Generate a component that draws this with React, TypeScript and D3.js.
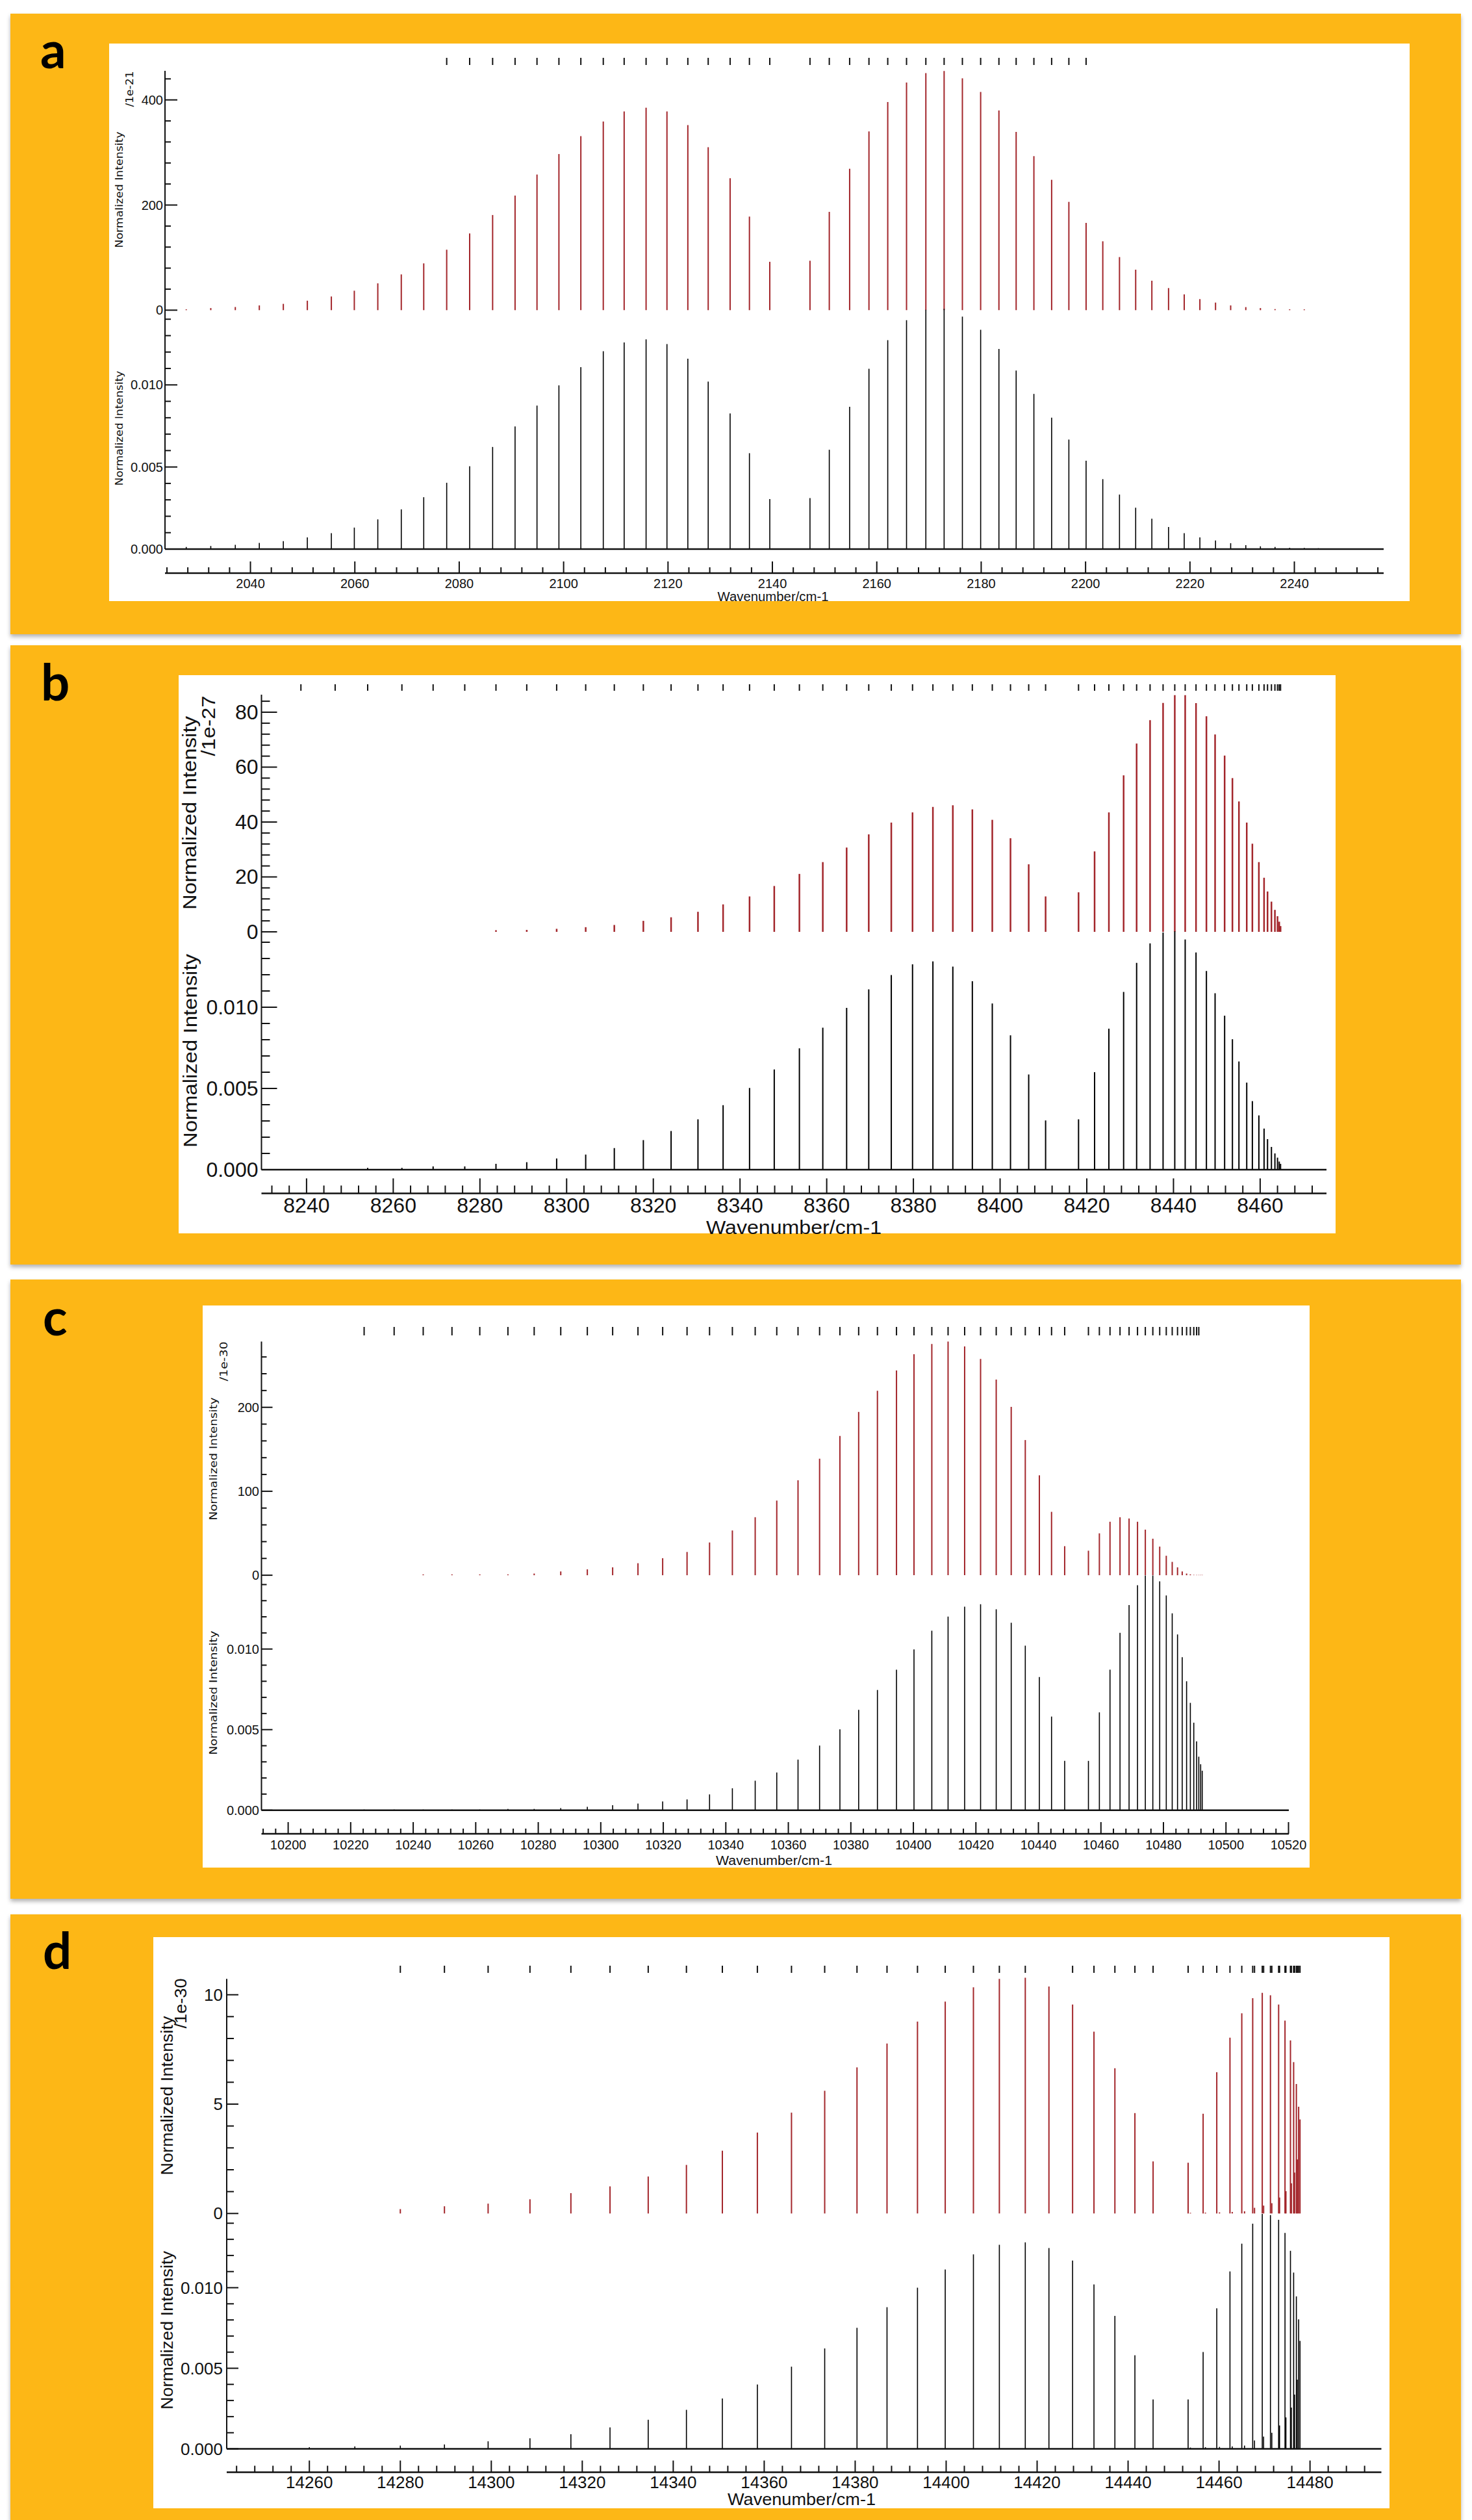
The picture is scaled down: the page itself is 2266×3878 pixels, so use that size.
import React from "react";
import * as d3 from "d3";

// ---------------- Panel a data ----------------
const aLines = [2027.7, 2032.4, 2037.1, 2041.7, 2046.3, 2050.9, 2055.5, 2059.9, 2064.4, 2068.9, 2073.2, 2077.6, 2082.0, 2086.4, 2090.7, 2094.9, 2099.1, 2103.3, 2107.6, 2111.6, 2115.8, 2119.8, 2123.8, 2127.7, 2131.9, 2135.6, 2139.5, 2147.2, 2150.9, 2154.8, 2158.5, 2162.1, 2165.7, 2169.4, 2172.9, 2176.4, 2179.9, 2183.4, 2186.7, 2190.1, 2193.5, 2196.8, 2200.1, 2203.3, 2206.5, 2209.6, 2212.7, 2215.9, 2218.9, 2221.9, 2224.9, 2227.8, 2230.7, 2233.5, 2236.3, 2239.1, 2241.9, 2244.6, 2247.2, 2249.8];
const aRed = [1.6, 4, 6, 9, 12, 18, 26, 37, 51, 68, 89, 115, 146, 181, 218, 258, 297, 331, 359, 378, 385, 378, 352, 310, 251, 178, 92, 94, 187, 269, 340, 396, 433, 451, 455, 441, 415, 380, 339, 293, 248, 206, 166, 131, 101, 77, 56, 42, 30, 21, 14.4, 9, 5.8, 4, 2, 1.6, 1.5, 0, 0, 0];
const aBlack = [0.00013, 0.00019, 0.00026, 0.00038, 0.00048, 0.00071, 0.00097, 0.00131, 0.00181, 0.00242, 0.00316, 0.00404, 0.00505, 0.00622, 0.00747, 0.00874, 0.00997, 0.01108, 0.01205, 0.01258, 0.01277, 0.01249, 0.01159, 0.0102, 0.00826, 0.00584, 0.00305, 0.00311, 0.00605, 0.00867, 0.01098, 0.01272, 0.01394, 0.01457, 0.01463, 0.01416, 0.01336, 0.01219, 0.01087, 0.00945, 0.008, 0.00667, 0.00538, 0.00426, 0.00332, 0.00252, 0.00185, 0.00135, 0.00097, 0.00071, 0.00052, 0.00036, 0.00024, 0.00017, 0.00013, 0.00008, 0.00007, 0.00005, 0.00004, 0.00003];
const aMarkerRange = [2077, 2201];
const aXLabels = [2040, 2060, 2080, 2100, 2120, 2140, 2160, 2180, 2200, 2220, 2240];
const aUpLabels = [0, 200, 400];

// ---------------- Panel b data ----------------
const bLines = [8238.7, 8246.6, 8254.1, 8262.0, 8269.2, 8276.5, 8283.7, 8290.8, 8297.7, 8304.4, 8311.0, 8317.7, 8324.1, 8330.3, 8336.1, 8342.2, 8347.9, 8353.7, 8359.1, 8364.6, 8369.7, 8374.9, 8379.8, 8384.5, 8389.1, 8393.6, 8398.2, 8402.4, 8406.6, 8410.5, 8418.1, 8421.8, 8425.1, 8428.5, 8431.5, 8434.6, 8437.6, 8440.3, 8442.7, 8445.2, 8447.6, 8449.6, 8451.8, 8453.6, 8455.1, 8456.9, 8458.2, 8459.7, 8460.9, 8461.7, 8462.6, 8463.4, 8464.0, 8464.4, 8464.7];
const bRed = [0, 0, 0, 0, 0, 0, 0.6, 0.7, 1.1, 1.7, 2.5, 4, 5.3, 7.3, 10, 12.9, 16.7, 21.1, 25.4, 30.7, 35.5, 39.8, 43.5, 45.5, 46.1, 44.6, 40.8, 34.1, 24.6, 12.9, 14.4, 29.3, 43.5, 57, 68.6, 77.1, 83.4, 86.2, 86.2, 83.3, 78.5, 71.9, 64.2, 56, 47.5, 39.8, 32.1, 25.4, 19.7, 14.7, 11, 8, 5.7, 3.7, 2.1];
const bBlack = [0.00002, 0.00003, 0.00011, 0.00011, 0.0002, 0.0002, 0.00036, 0.00046, 0.00069, 0.00093, 0.00133, 0.00182, 0.00238, 0.0031, 0.00397, 0.00503, 0.00617, 0.00747, 0.00874, 0.00996, 0.0111, 0.01198, 0.01264, 0.01282, 0.0125, 0.0116, 0.01023, 0.00827, 0.00586, 0.00303, 0.0031, 0.006, 0.00868, 0.01094, 0.01273, 0.01393, 0.0146, 0.01467, 0.01417, 0.01337, 0.01223, 0.01086, 0.00948, 0.00803, 0.00666, 0.00536, 0.00422, 0.00334, 0.00253, 0.00188, 0.0014, 0.001, 0.00074, 0.0005, 0.00036];
const bMarkerRange = [8230, 8470];
const bXLabels = [8240, 8260, 8280, 8300, 8320, 8340, 8360, 8380, 8400, 8420, 8440, 8460];
const bUpLabels = [0, 20, 40, 60, 80];

// ---------------- Panel c data ----------------
const cLines = [10224.3, 10233.9, 10243.2, 10252.4, 10261.3, 10270.3, 10278.7, 10287.2, 10295.7, 10303.8, 10311.9, 10319.8, 10327.6, 10334.8, 10342.1, 10349.4, 10356.3, 10363.1, 10370.0, 10376.5, 10382.5, 10388.5, 10394.6, 10400.2, 10405.9, 10411.1, 10416.4, 10421.5, 10426.5, 10431.3, 10435.8, 10440.3, 10444.2, 10448.4, 10456.0, 10459.5, 10462.9, 10466.1, 10469.0, 10471.7, 10474.2, 10476.6, 10478.8, 10480.9, 10482.8, 10484.5, 10486.0, 10487.4, 10488.6, 10489.7, 10490.6, 10491.3, 10491.9, 10492.4];
const cRed = [0, 0, 1.0, 1.0, 1.0, 1.0, 2.0, 4.5, 7, 9.4, 14.3, 20.3, 27.7, 39, 53.3, 69.1, 88.9, 113.1, 138.8, 165.9, 194.5, 219.7, 243.9, 263.2, 275.5, 278.4, 272.5, 257.7, 233, 200.5, 161, 119, 75.5, 34.6, 29.2, 49.9, 63.7, 69.1, 67.6, 63.7, 54.3, 43.5, 34.1, 23.2, 15.9, 9.4, 4.5, 2.0, 1.0, 0.4, 0.3, 0.3, 0.3, 0.3];
const cBlack = [0.00001, 0.00001, 0.00002, 0.00002, 0.00004, 0.00008, 0.00008, 0.00013, 0.00021, 0.00031, 0.00041, 0.00054, 0.00067, 0.00098, 0.00136, 0.00183, 0.00234, 0.00314, 0.00401, 0.00502, 0.00623, 0.00746, 0.00872, 0.00998, 0.01114, 0.01201, 0.01263, 0.01278, 0.01247, 0.01163, 0.01021, 0.00826, 0.00581, 0.00306, 0.00306, 0.00607, 0.00872, 0.01101, 0.01273, 0.01396, 0.01456, 0.01456, 0.0142, 0.01332, 0.01222, 0.0109, 0.00949, 0.008, 0.00666, 0.00543, 0.00427, 0.00332, 0.00285, 0.00245];
const cMarkerRange = [10220, 10491.5];
const cXLabels = [10200, 10220, 10240, 10260, 10280, 10300, 10320, 10340, 10360, 10380, 10400, 10420, 10440, 10460, 10480, 10500, 10520];
const cUpLabels = [0, 100, 200];

// ---------------- Panel d data ----------------
const dLines = [14260.0, 14270.0, 14280.0, 14289.7, 14299.3, 14308.5, 14317.5, 14326.1, 14334.5, 14342.9, 14350.8, 14358.5, 14366.0, 14373.3, 14380.4, 14387.0, 14393.7, 14399.8, 14406.0, 14411.7, 14417.4, 14422.6, 14427.8, 14432.5, 14437.1, 14441.5, 14445.5, 14453.2, 14456.5, 14459.5, 14462.4, 14465.0, 14467.4, 14469.5, 14471.3, 14473.1, 14474.5, 14475.7, 14476.4, 14477.0, 14477.5, 14477.8];
const dRed = [0, 0, 0.2, 0.33, 0.45, 0.65, 0.93, 1.24, 1.69, 2.22, 2.87, 3.70, 4.61, 5.61, 6.68, 7.77, 8.77, 9.69, 10.34, 10.73, 10.78, 10.38, 9.55, 8.31, 6.64, 4.59, 2.38, 2.32, 4.56, 6.46, 8.04, 9.15, 9.84, 10.09, 9.98, 9.55, 8.82, 7.91, 6.92, 5.92, 4.88, 4.3];
const dBlack = [0.0001, 0.00015, 0.0002, 0.00027, 0.00047, 0.00066, 0.00091, 0.00133, 0.0018, 0.00242, 0.00313, 0.00399, 0.0051, 0.00623, 0.00751, 0.00879, 0.01, 0.01113, 0.01207, 0.01266, 0.01281, 0.01246, 0.01168, 0.0102, 0.00825, 0.00581, 0.00306, 0.00306, 0.00601, 0.00872, 0.01101, 0.01273, 0.01397, 0.01458, 0.01451, 0.01421, 0.0134, 0.01229, 0.01094, 0.00946, 0.00803, 0.0067];
const dWeakLines = [14453.7, 14457.0, 14460.1, 14462.9, 14465.6, 14467.8, 14469.8, 14471.6, 14473.3, 14474.7, 14475.9, 14476.6, 14477.2];
const dWeakRed = [0.03, 0.04, 0.05, 0.07, 0.1, 0.26, 0.36, 0.47, 0.73, 1.02, 1.38, 1.87, 2.47];
const dWeakBlack = [0.00008, 0.0001, 0.00012, 0.00015, 0.0002, 0.00052, 0.00076, 0.001, 0.00145, 0.00195, 0.00256, 0.00337, 0.00429];
const dMarkerRange = [14279, 14480];
const dMarkerSkip = [14422.6];
const dWeakMarkerFrom = 14467;
const dXLabels = [14260, 14280, 14300, 14320, 14340, 14360, 14380, 14400, 14420, 14440, 14460, 14480];
const dUpLabels = [0, 5, 10];

const lowLabels = [0, 0.005, 0.01];

// ---------------- layout (positions / styles) ----------------
const ORANGE = "#FDB714";
const RED = "#a3262b";

type Layout = any;

const layouts: Record<string, Layout> = {
  a: {
    letter: "a", letterPos: [62, 105], box: [16, 21, 2249, 976], plot: [168, 67, 2170, 925],
    axisX: 254, axisRight: 2130, xDomain: [2023.63, 2257.11],
    upTop: 109, upZero: 477.3, upMax: 455.3, upMinor: 40,
    lowZero: 845, lowMax: 0.014551,
    xMinor: 4, axisY: 882, xMajLen: 18, xMinLen: 9, xLabelY: 898,
    yMajLen: 19, yMinLen: 9, labelGap: 3, markerY: [89, 100], lineW: 2,
    tickFont: 20, tickFamily: "Liberation Sans, Arial, sans-serif",
    titleFamily: "DejaVu Sans, Verdana, sans-serif", titleFont: 15,
    niUp: [184, 292, 179], niLow: [184, 659, 177], exp: [200, 137, 55],
    xTitle: [1190, 918, 171], xTitleFont: 20,
  },
  b: {
    letter: "b", letterPos: [63, 1078], box: [16, 993, 2249, 1946], plot: [275, 1039, 2056, 1898],
    axisX: 402.5, axisRight: 2042, xDomain: [8229.6, 8475.3],
    upTop: 1069, upZero: 1434, upMax: 86.39, upMinor: 4,
    lowZero: 1800, lowMax: 0.01464,
    xMinor: 4, axisY: 1836.4, xMajLen: 23, xMinLen: 12, xLabelY: 1855,
    yMajLen: 24, yMinLen: 13, labelGap: 5, markerY: [1053, 1063], lineW: 2.5,
    tickFont: 32, tickFamily: "Liberation Sans, Arial, sans-serif",
    titleFamily: "Liberation Sans, Arial, sans-serif", titleFont: 30,
    niUp: [291, 1251, 298], niLow: [292, 1617, 298], exp: [320, 1117, 93],
    xTitle: [1222, 1888, 270], xTitleFont: 30,
  },
  c: {
    letter: "c", letterPos: [66, 2055], box: [16, 1969, 2249, 2922], plot: [312, 2009, 2016, 2874],
    axisX: 402.5, axisRight: 1984, xDomain: [10191.46, 10520.1],
    upTop: 2064.4, upZero: 2424.1, upMax: 278.4, upMinor: 20,
    lowZero: 2785.7, lowMax: 0.01458,
    xMinor: 4, axisY: 2822, xMajLen: 18, xMinLen: 8, xLabelY: 2839,
    yMajLen: 17, yMinLen: 8, labelGap: 3.5, markerY: [2042, 2055], lineW: 2,
    tickFont: 20, tickFamily: "Liberation Sans, Arial, sans-serif",
    titleFamily: "DejaVu Sans, Verdana, sans-serif", titleFont: 16,
    niUp: [328, 2245, 189], niLow: [328, 2605, 191], exp: [344, 2095, 61],
    xTitle: [1191.5, 2863, 179], xTitleFont: 20,
  },
  d: {
    letter: "d", letterPos: [66, 3030], box: [16, 2946, 2249, 3878], plot: [236, 2981, 2139, 3860],
    axisX: 349, axisRight: 2126.5, xDomain: [14241.83, 14495.69],
    upTop: 3045.2, upZero: 3406.3, upMax: 10.728, upMinor: 1,
    lowZero: 3768.5, lowMax: 0.014605,
    xMinor: 4, axisY: 3804.5, xMajLen: 18, xMinLen: 10, xLabelY: 3820,
    yMajLen: 18, yMinLen: 11, labelGap: 6, markerY: [3025, 3036], lineW: 2,
    tickFont: 26, tickFamily: "Liberation Sans, Arial, sans-serif",
    titleFamily: "Liberation Sans, Arial, sans-serif", titleFont: 25,
    niUp: [257, 3225, 245], niLow: [257, 3586, 244], exp: [278, 3083, 77],
    xTitle: [1234, 3846, 228], xTitleFont: 25,
  },
};

type PanelData = {
  lines: number[]; red: number[]; black: number[];
  weakLines?: number[]; weakRed?: number[]; weakBlack?: number[];
  markers: number[]; xLabels: number[]; upLabels: number[];
};

const inRange = (v: number, r: number[]) => v >= r[0] && v <= r[1];

const panels: { L: Layout; D: PanelData }[] = [
  {
    L: layouts.a,
    D: { lines: aLines, red: aRed, black: aBlack, markers: aLines.filter((v) => inRange(v, aMarkerRange)), xLabels: aXLabels, upLabels: aUpLabels },
  },
  {
    L: layouts.b,
    D: { lines: bLines, red: bRed, black: bBlack, markers: bLines.filter((v) => inRange(v, bMarkerRange)), xLabels: bXLabels, upLabels: bUpLabels },
  },
  {
    L: layouts.c,
    D: { lines: cLines, red: cRed, black: cBlack, markers: cLines.filter((v) => inRange(v, cMarkerRange)), xLabels: cXLabels, upLabels: cUpLabels },
  },
  {
    L: layouts.d,
    D: {
      lines: dLines, red: dRed, black: dBlack,
      weakLines: dWeakLines, weakRed: dWeakRed, weakBlack: dWeakBlack,
      markers: dLines.filter((v) => inRange(v, dMarkerRange) && !dMarkerSkip.includes(v)).concat(dWeakLines.filter((v) => v >= dWeakMarkerFrom)),
      xLabels: dXLabels, upLabels: dUpLabels,
    },
  },
];

const isMult = (v: number, step: number) => Math.abs(v / step - Math.round(v / step)) < 1e-6;

function Panel({ L, D }: { L: Layout; D: PanelData }) {
  const x = d3.scaleLinear().domain(L.xDomain).range([L.axisX, L.axisRight]);
  const yUp = d3.scaleLinear().domain([0, L.upMax]).range([L.upZero, L.upTop]);
  const yLow = d3.scaleLinear().domain([0, L.lowMax]).range([L.lowZero, L.upZero]);
  const fmtLow = d3.format(".3f");

  const xMinorTicks = d3.range(Math.ceil(L.xDomain[0] / L.xMinor) * L.xMinor, L.xDomain[1], L.xMinor);
  const upTicks = d3.range(0, L.upMax, L.upMinor);
  const lowTicks = d3.range(0, L.lowMax + 1e-9, 0.001);
  const upMajor = D.upLabels[1] - D.upLabels[0];
  const xMajor = D.xLabels[1] - D.xLabels[0];

  const [bx0, by0, bx1, by1] = L.box;
  const [px0, py0, px1, py1] = L.plot;
  const col = "#111";

  const allLines = D.lines.map((v, i) => ({ v, r: D.red[i], b: D.black[i] }));
  const weak = (D.weakLines || []).map((v, i) => ({ v, r: D.weakRed![i], b: D.weakBlack![i] }));
  const bars = allLines.concat(weak);

  const rot = (p: number[], txt: string, fs: number) => (
    <text
      transform={`translate(${p[0]},${p[1]}) rotate(-90)`}
      textAnchor="middle"
      dominantBaseline="central"
      fontFamily={L.titleFamily}
      fontSize={fs}
      fill={col}
      textLength={p[2]}
      lengthAdjust="spacingAndGlyphs"
    >
      {txt}
    </text>
  );

  return (
    <g>
      <rect x={bx0} y={by0} width={bx1 - bx0} height={by1 - by0} fill={ORANGE} filter="url(#shadow)" />
      <text x={L.letterPos[0]} y={L.letterPos[1]} fontFamily="Lato, 'Open Sans', sans-serif" fontWeight={700} fontSize={78} fill="#000">
        {L.letter}
      </text>
      <rect x={px0} y={py0} width={px1 - px0} height={py1 - py0} fill="#fff" />

      {/* top markers */}
      {D.markers.map((v, i) => (
        <line key={"m" + i} x1={x(v)} x2={x(v)} y1={L.markerY[0]} y2={L.markerY[1]} stroke="#111" strokeWidth={2} />
      ))}

      {/* red upper spectrum */}
      {bars.filter((d) => d.r > 0).map((d, i) => (
        <line key={"r" + i} x1={x(d.v)} x2={x(d.v)} y1={yUp(0)} y2={yUp(d.r)} stroke={RED} strokeWidth={L.lineW} />
      ))}

      {/* black lower spectrum */}
      {bars.map((d, i) => (
        <line key={"b" + i} x1={x(d.v)} x2={x(d.v)} y1={yLow(0)} y2={Math.min(yLow(0) - 1, yLow(d.b))} stroke="#000" strokeWidth={L.lineW * 0.8} />
      ))}

      {/* y axis */}
      <line x1={L.axisX} x2={L.axisX} y1={L.upTop} y2={L.lowZero} stroke={col} strokeWidth={2} />
      {upTicks.map((t, i) => {
        const maj = isMult(t, upMajor);
        return (
          <line key={"ut" + i} x1={L.axisX} x2={L.axisX + (maj ? L.yMajLen : L.yMinLen)} y1={yUp(t)} y2={yUp(t)} stroke={col} strokeWidth={2} />
        );
      })}
      {D.upLabels.map((t, i) => (
        <text key={"ul" + i} x={L.axisX - L.labelGap} y={yUp(t)} textAnchor="end" dominantBaseline="central" fontFamily={L.tickFamily} fontSize={L.tickFont} fill={col}>
          {t}
        </text>
      ))}
      {lowTicks.map((t, i) => {
        const maj = isMult(t, 0.005);
        return (
          <line key={"lt" + i} x1={L.axisX} x2={L.axisX + (maj ? L.yMajLen : L.yMinLen)} y1={yLow(t)} y2={yLow(t)} stroke={col} strokeWidth={2} />
        );
      })}
      {lowLabels.map((t, i) => (
        <text key={"ll" + i} x={L.axisX - L.labelGap} y={yLow(t)} textAnchor="end" dominantBaseline="central" fontFamily={L.tickFamily} fontSize={L.tickFont} fill={col}>
          {fmtLow(t)}
        </text>
      ))}

      {/* lower baseline */}
      <line x1={L.axisX} x2={L.axisRight} y1={L.lowZero} y2={L.lowZero} stroke={col} strokeWidth={2.5} />

      {/* bottom wavenumber axis */}
      <line x1={L.axisX} x2={L.axisRight} y1={L.axisY} y2={L.axisY} stroke={col} strokeWidth={2.5} />
      {xMinorTicks.map((t, i) => {
        const maj = isMult(t, xMajor);
        return (
          <line key={"xt" + i} x1={x(t)} x2={x(t)} y1={L.axisY} y2={L.axisY - (maj ? L.xMajLen : L.xMinLen)} stroke={col} strokeWidth={2} />
        );
      })}
      {D.xLabels.map((t, i) => (
        <text key={"xl" + i} x={x(t)} y={L.xLabelY} textAnchor="middle" dominantBaseline="central" fontFamily={L.tickFamily} fontSize={L.tickFont} fill={col}>
          {t}
        </text>
      ))}

      {/* titles */}
      {rot(L.niUp, "Normalized Intensity", L.titleFont)}
      {rot(L.niLow, "Normalized Intensity", L.titleFont)}
      {rot(L.exp, L.letter === "a" ? "/1e-21" : L.letter === "b" ? "/1e-27" : "/1e-30", L.titleFont)}
      <text
        x={L.xTitle[0]}
        y={L.xTitle[1]}
        textAnchor="middle"
        dominantBaseline="central"
        fontFamily={L.tickFamily}
        fontSize={L.xTitleFont}
        fill={col}
        textLength={L.xTitle[2]}
        lengthAdjust="spacingAndGlyphs"
      >
        Wavenumber/cm-1
      </text>
    </g>
  );
}

export default function App() {
  return (
    <svg
      width={2266}
      height={3878}
      viewBox="0 0 2266 3878"
      style={{ position: "absolute", left: 0, top: 0, display: "block", background: "#fff" }}
    >
      <defs>
        <filter id="shadow" x="-2%" y="-2%" width="104%" height="106%">
          <feDropShadow dx="0" dy="4" stdDeviation="3" floodColor="#000" floodOpacity="0.3" />
        </filter>
      </defs>
      <rect x={0} y={0} width={2266} height={3878} fill="#fff" />
      {panels.map((p, i) => (
        <Panel key={i} L={p.L} D={p.D} />
      ))}
    </svg>
  );
}
